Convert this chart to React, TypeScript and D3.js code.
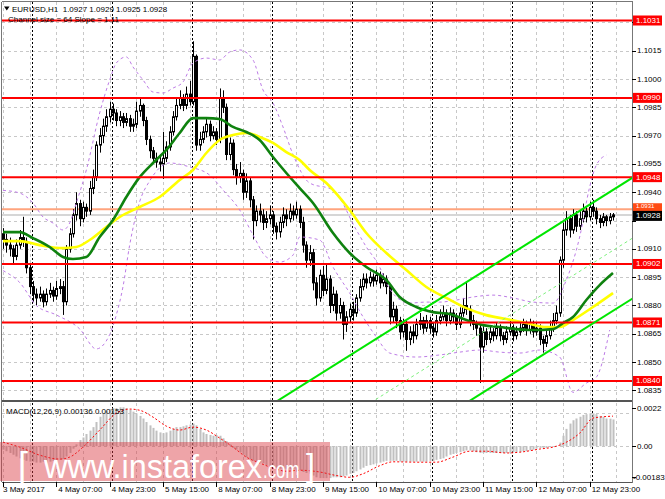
import React from 'react';
import * as d3 from 'd3';

// ---------------- DATA ----------------
const symbolTitle = 'EURUSD,H1';
const lastOHLC = ['1.0927', '1.0929', '1.0925', '1.0928'];
const channelText = 'Channel size = 64 Slope = 1.11';
const macdTitle = 'MACD(12,26,9) 0.00136 0.00153';
const watermarkMain = 'www.instaforex';
const watermarkTld = '.com';

// prices expressed in pips above BASE
const BASE = 1.08;
const firstOpen = 118;
const closes = [
  115, 112, 110, 106, 112, 116, 114, 100, 90, 86,
  84, 86, 82, 86, 88, 85, 89, 90, 82, 110,
  118, 128, 134, 126, 132, 130, 142, 148, 165, 170,
  175, 180, 184, 182, 178, 180, 177, 179, 175, 176,
  183, 186, 178, 168, 162, 158, 156, 155, 158, 164,
  172, 180, 186, 190, 186, 192, 188, 212, 165, 168,
  172, 176, 170, 172, 168, 190, 185, 160, 166, 152,
  148, 150, 140, 146, 136, 125, 130, 128, 124, 126,
  128, 122, 119, 124, 128, 126, 130, 128, 131, 124,
  112, 104, 108, 92, 84, 96, 88, 94, 80, 86,
  76, 80, 70, 74, 78, 76, 84, 90, 94, 92,
  95, 93, 96, 92, 94, 90, 74, 78, 72, 66,
  70, 62, 66, 64, 70, 72, 68, 72, 68, 66,
  72, 74, 76, 72, 76, 74, 70, 76, 80, 78,
  72, 70, 68, 58, 66, 62, 66, 64, 68, 64,
  62, 66, 68, 64, 66, 68, 70, 67, 70, 66,
  68, 62, 60, 64, 68, 72, 76, 104, 120, 126,
  120, 128, 122, 126, 130, 127, 132, 130, 126, 124,
  127, 125, 127, 128,
];
const highs = [
  121, 118, 116, 112, 115, 120, 127, 116, 102, 93,
  89, 90, 88, 89, 92, 90, 93, 94, 93, 112,
  121, 131, 140, 136, 135, 134, 146, 152, 167, 174,
  179, 184, 188, 187, 184, 183, 182, 182, 181, 179,
  188, 190, 187, 180, 170, 164, 161, 159, 172, 167,
  175, 183, 190, 194, 192, 196, 199, 220, 213, 172,
  175, 179, 178, 175, 174, 195, 194, 187, 169, 168,
  155, 156, 152, 150, 148, 138, 133, 134, 131, 130,
  133, 130, 124, 127, 132, 131, 134, 133, 135, 133,
  127, 114, 112, 110, 95, 99, 101, 102, 96, 90,
  88, 84, 82, 77, 81, 82, 86, 94, 97, 97,
  98, 97, 99, 98, 97, 96, 91, 82, 80, 74,
  73, 72, 69, 70, 73, 76, 74, 75, 74, 71,
  75, 78, 80, 78, 79, 78, 76, 79, 84, 92,
  80, 75, 72, 70, 69, 68, 69, 68, 71, 70,
  66, 69, 72, 70, 69, 71, 73, 72, 73, 72,
  71, 70, 64, 67, 72, 76, 80, 106, 124, 130,
  128, 131, 130, 130, 134, 132, 135, 136, 132, 128,
  129, 128, 129, 129,
];
const lows = [
  110, 108, 106, 102, 104, 110, 111, 97, 86, 82,
  80, 82, 79, 80, 84, 82, 83, 86, 75, 80,
  108, 116, 125, 122, 124, 127, 128, 139, 146, 161,
  166, 172, 177, 178, 175, 175, 174, 175, 172, 172,
  174, 180, 175, 165, 158, 155, 153, 151, 147, 156,
  162, 170, 178, 184, 183, 184, 186, 186, 162, 162,
  166, 169, 167, 168, 165, 166, 182, 157, 157, 149,
  144, 145, 136, 137, 132, 115, 122, 124, 120, 121,
  123, 118, 115, 116, 121, 122, 124, 125, 126, 121,
  108, 100, 101, 88, 80, 82, 85, 86, 76, 77,
  72, 73, 62, 66, 71, 72, 74, 82, 88, 89,
  90, 90, 91, 89, 90, 86, 70, 71, 68, 62,
  63, 56, 59, 60, 62, 67, 65, 66, 65, 63,
  64, 70, 72, 69, 70, 71, 67, 68, 74, 75,
  69, 67, 64, 39, 55, 59, 60, 61, 62, 61,
  59, 60, 64, 61, 62, 64, 66, 64, 65, 63,
  64, 59, 55, 58, 62, 66, 70, 74, 100, 117,
  116, 118, 119, 120, 124, 124, 125, 127, 123, 121,
  122, 122, 123, 125,
];

// moving averages (pips above BASE) read at bar positions
const greenMABars = [0, 5, 9, 14, 18, 21, 25, 29, 33, 37, 41, 45, 49, 53, 57, 61, 65, 69, 73, 77, 81, 85, 89, 93, 99, 104, 109, 115, 119, 124, 129, 134, 139, 144, 149, 154, 159, 165, 168, 171, 175, 179, 183];
const greenMAValues = [118.9, 118.9, 115.7, 111, 105.7, 104.6, 105.7, 116.3, 125.3, 137.5, 148, 155.5, 162.4, 171.4, 179.3, 179.3, 178.8, 174.6, 171.9, 167.7, 158.7, 150.2, 142.2, 134.3, 118.4, 107.8, 100.4, 93.5, 84.5, 79.2, 76.5, 75.5, 72.3, 69.6, 68.6, 67.5, 67, 67.5, 70.7, 73.9, 82.9, 90.8, 97.2];
const yellowMABars = [0, 5, 11, 18, 22, 26, 31, 35, 41, 47, 53, 57, 61, 65, 69, 73, 77, 81, 85, 89, 92, 97, 104, 109, 115, 121, 127, 133, 139, 145, 151, 157, 163, 167, 171, 177, 183];
const yellowMAValues = [114.1, 114.1, 112, 110.4, 111, 114.7, 121.6, 126.9, 132.2, 137.5, 146.5, 151.8, 160.8, 167.7, 170.3, 171.4, 169.3, 166.1, 161.3, 157.1, 151.8, 144.9, 130.6, 118.4, 107.8, 98.8, 89.8, 84, 78.6, 74.9, 72.8, 70.7, 68.6, 68.6, 72.3, 79.2, 86.6];

// bollinger bands (pips above BASE)
const upperBandBars = [0, 5, 9, 12, 15, 18, 20, 22, 25, 29, 32, 34, 37, 39, 42, 45, 48, 51, 54, 57, 61, 65, 68, 71, 75, 78, 81, 84, 87, 92, 99, 106, 109, 113, 115, 118, 122, 127, 131, 136, 141, 147, 153, 159, 165, 169, 173, 176, 178, 181];
const upperBandValues = [141, 139.6, 134.3, 126.9, 123.7, 120, 123.7, 134.3, 151.8, 182, 199.5, 208.5, 211.7, 206.4, 199.5, 193.1, 192.6, 195.2, 198.4, 208.5, 211.1, 210.1, 214.3, 215.4, 210.1, 194.2, 187.3, 174.6, 160, 144.9, 141.2, 120, 111, 100.4, 92, 84.5, 81.3, 81.8, 81.8, 82.9, 84.5, 85.5, 84, 81.8, 81.3, 93.5, 116.3, 142.8, 154.4, 159.7];
const lowerBandBars = [0, 5, 10, 16, 23, 28, 32, 34, 36, 38, 41, 44, 50, 56, 62, 66, 71, 75, 79, 83, 87, 89, 95, 99, 104, 108, 112, 116, 124, 131, 137, 143, 149, 155, 161, 167, 171, 175, 178, 182];
const lowerBandValues = [98.5, 92.2, 80, 75, 67.6, 57, 64.6, 75, 90, 112, 135, 146, 155.5, 153.4, 149.1, 141.2, 130.6, 117.4, 105.7, 103, 106.7, 116.3, 114.7, 100.4, 86.6, 74, 63.3, 54.8, 52.7, 53.8, 55.3, 56.4, 55.3, 54.8, 56.4, 52.7, 34, 38.9, 42, 67];

// regression channel
const channelAnchorBar = 183;
const channelAnchorUpper = 141.2; // pips above BASE
const channelSlope = 1.11; // pips per bar
const channelSize = 64; // pips

// horizontal levels
const levelPrices = [1.1031, 1.0990, 1.0948, 1.0902, 1.0871, 1.0840];
const askPrice = 1.0931;
const bidPrice = 1.0928;
const priceTicks = [1.1030, 1.1015, 1.1000, 1.0985, 1.0970, 1.0955, 1.0940, 1.0925, 1.0910, 1.0895, 1.0880, 1.0865, 1.0850, 1.0835];
// tick labels that the level / price boxes cover in the reference
const hiddenTickLabels = [1.1030, 1.0925];

// time axis
const timeLabels = ['3 May 2017', '4 May 07:00', '4 May 23:00', '5 May 15:00', '8 May 07:00', '8 May 23:00', '9 May 15:00', '10 May 07:00', '10 May 23:00', '11 May 15:00', '12 May 07:00', '12 May 23:00'];
const timeLabelBars = [0, 16, 32, 48, 64, 80, 96, 112, 128, 144, 160, 176];
const daySeparatorBars = [9, 33, 57, 81, 105, 129, 153, 177];
const gridBars = [0, 8, 16, 24, 32, 40, 48, 56, 64, 72, 80, 88, 96, 104, 112, 120, 128, 136, 144, 152, 160, 168, 176, 184];

// MACD (units of 0.0001)
const macdMain = [
  -1.8, -2.6, -3.5, -4.4, -5.3, -6.2, -7, -7.5, -7.9, -7.9,
  -8.4, -8.4, -7.9, -8.4, -7.9, -7.5, -7, -7, -6.6, -5.3,
  -3.5, -1.3, 0.9, 3.1, 4.4, 6.2, 7.9, 9.7, 12.3, 15,
  16.7, 18.1, 18.9, 19.4, 19.4, 19.8, 19.8, 19.4, 18.5, 17.6,
  16.7, 15.4, 14.1, 12.3, 10.6, 9.3, 7.9, 7, 6.6, 7,
  7.9, 8.8, 9.7, 9.7, 10.1, 10.6, 11, 11.5, 10.6, 8.8,
  7, 6.2, 5.7, 5.3, 5.7, 5.3, 4, 2.6, 0.9, -0.9,
  -1.8, -3.1, -4.4, -5.7, -6.6, -7.5, -7.9, -8.4, -8.8, -9.7,
  -10.1, -10.6, -11, -11.5, -11.5, -11.5, -11.9, -11.9, -11.9, -12.3,
  -13.2, -13.7, -14.1, -15, -15.9, -16.3, -16.3, -16.3, -16.3, -15.9,
  -15.9, -15.9, -15.4, -15, -14.1, -13.7, -12.8, -11.9, -11, -10.1,
  -9.7, -9.3, -8.8, -8.4, -7.9, -7.5, -7.5, -7.5, -7.5, -7.9,
  -7.9, -7.9, -7.9, -7.9, -7.9, -7.9, -7.9, -7.9, -7.5, -7.5,
  -7, -6.6, -6.2, -5.3, -4.4, -4, -3.5, -3.1, -2.6, -2.2,
  -2.2, -2.6, -3.1, -3.5, -3.5, -3.5, -3.5, -3.5, -3.5, -3.5,
  -3.5, -3.5, -3.5, -3.1, -3.1, -3.1, -2.6, -2.6, -2.2, -1.8,
  -1.3, -0.9, -0.9, -0.9, -0.4, -0.4, 0, 1.8, 5.3, 8.8,
  11.5, 13.2, 14.1, 15, 15.9, 16.3, 16.7, 16.7, 16.3, 15.4,
  15, 14.1, 14, 13.6,
];
const signalBars = [0, 5, 11, 17, 20, 24, 29, 34, 38, 41, 45, 49, 53, 57, 61, 65, 69, 73, 77, 81, 85, 89, 95, 100, 104, 108, 113, 117, 125, 130, 135, 140, 145, 151, 155, 161, 165, 169, 173, 177, 179, 183];
const signalValues = [2, -0.5, -4.6, -6.6, -5.6, -0.5, 8.2, 16.8, 18.9, 18.3, 14.8, 10.2, 8.2, 9.7, 8.2, 4.1, -0.5, -5.6, -8.6, -11.2, -12.8, -12.3, -13.2, -15, -15.9, -14.1, -10, -8, -8.2, -8.2, -5.6, -2.6, -2.6, -3.5, -3.1, -1.5, -0.5, 2, 6.6, 14.3, 14.8, 15.3];
const macdAxisLabels = ['0.0022', '0.00', '-0.00183'];
const macdAxisValues = [0.0022, 0, -0.00183];
const macdGridValues = [0.0017, 0];

// ---------------- LAYOUT ----------------
const W = 665;
const H = 499;
const left = 2;
const right = 632;
const mainTop = 2;
const mainBottom = 401;
const macdTop = 403;
const macdBottom = 482;
const FONT = '"Liberation Sans", Arial, sans-serif';

const x = d3.scaleLinear().domain([0, 189]).range([3, 633]);
const yP = d3.scaleLinear().domain([1.08294, 1.10408]).range([mainBottom, mainTop]);
const yM = d3.scaleLinear().domain([-0.00183, 0.0022]).range([macdBottom, macdTop]);
const pip = (v: number) => BASE + v / 10000;

const candles = closes.map((c, i) => ({
  i,
  o: i === 0 ? firstOpen : closes[i - 1],
  h: highs[i],
  l: lows[i],
  c,
}));

const pipLine = d3
  .line<[number, number]>()
  .x((d) => x(d[0]))
  .y((d) => yP(pip(d[1])))
  .curve(d3.curveMonotoneX);

const macdLine = d3
  .line<[number, number]>()
  .x((d) => x(d[0]))
  .y((d) => yM(d[1] / 10000))
  .curve(d3.curveMonotoneX);

const zip = (a: number[], b: number[]) => a.map((v, i) => [v, b[i]] as [number, number]);

const channelAt = (bar: number, offset: number) =>
  channelAnchorUpper + (bar - channelAnchorBar) * channelSlope - offset;

export default function App() {
  const chStart = 60;
  const chEnd = 195;
  const channelLines = [
    { off: 0, color: '#00e600', width: 2, dash: undefined as string | undefined },
    { off: channelSize / 2, color: '#7cf07c', width: 1, dash: '3,3' },
    { off: channelSize, color: '#00e600', width: 2, dash: undefined },
  ];
  const crisp = (v: number) => Math.round(v) + 0.5;

  return (
    <div style={{ position: 'absolute', left: 0, top: 0 }}>
      <svg width={W} height={H} style={{ display: 'block', background: '#fff' }} fontFamily={FONT}>
        <defs>
          <clipPath id="mainClip">
            <rect x={left} y={mainTop} width={right - left} height={mainBottom - mainTop} />
          </clipPath>
          <clipPath id="macdClip">
            <rect x={left} y={macdTop} width={right - left} height={macdBottom - macdTop} />
          </clipPath>
        </defs>
        <rect x={0} y={0} width={W} height={H} fill="#fff" />

        {/* horizontal grid main */}
        {priceTicks.map((p) => (
          <line key={'hg' + p} x1={left} x2={right} y1={crisp(yP(p))} y2={crisp(yP(p))} stroke="#c8c8c8" strokeDasharray="3,3" strokeWidth={1} />
        ))}
        {/* horizontal grid macd */}
        {macdGridValues.map((v) => (
          <line key={'mg' + v} x1={left} x2={right} y1={crisp(yM(v))} y2={crisp(yM(v))} stroke="#c8c8c8" strokeDasharray="3,3" strokeWidth={1} />
        ))}
        {/* vertical grid */}
        {gridBars.map((b) => (
          <g key={'vg' + b}>
            <line x1={crisp(x(b))} x2={crisp(x(b))} y1={mainTop} y2={mainBottom} stroke="#c8c8c8" strokeDasharray="3,3" />
            <line x1={crisp(x(b))} x2={crisp(x(b))} y1={macdTop} y2={macdBottom} stroke="#c8c8c8" strokeDasharray="3,3" />
          </g>
        ))}
        {/* day separators */}
        {daySeparatorBars.map((b) => (
          <g key={'ds' + b}>
            <line x1={crisp(x(b) - 1)} x2={crisp(x(b) - 1)} y1={mainTop} y2={mainBottom} stroke="#000" strokeDasharray="2,2" />
            <line x1={crisp(x(b) - 1)} x2={crisp(x(b) - 1)} y1={macdTop} y2={macdBottom} stroke="#000" strokeDasharray="2,2" />
          </g>
        ))}

        <g clipPath="url(#mainClip)">
          {/* bid / ask lines */}
          <line x1={left} x2={right} y1={yP(askPrice)} y2={yP(askPrice)} stroke="#ffa47e" strokeWidth={2} />
          <line x1={left} x2={right} y1={yP(bidPrice)} y2={yP(bidPrice)} stroke="#d6d6d6" strokeWidth={2} />

          {/* candles */}
          {candles.map((d) => {
            const cx = Math.round(x(d.i)) + 0.5;
            const top = yP(pip(Math.max(d.o, d.c)));
            const bot = yP(pip(Math.min(d.o, d.c)));
            const bull = d.c >= d.o;
            return (
              <g key={'c' + d.i}>
                <line x1={cx} x2={cx} y1={yP(pip(d.h))} y2={yP(pip(d.l))} stroke="#000" strokeWidth={1} />
                <rect
                  x={cx - 1}
                  y={top}
                  width={2}
                  height={Math.max(0.8, bot - top)}
                  fill={bull ? '#fff' : '#000'}
                  stroke="#000"
                  strokeWidth={1}
                />
              </g>
            );
          })}

          {/* bollinger bands */}
          <path d={pipLine(zip(upperBandBars, upperBandValues)) || ''} fill="none" stroke="#bd7ce6" strokeWidth={1} strokeDasharray="3,3" />
          <path d={pipLine(zip(lowerBandBars, lowerBandValues)) || ''} fill="none" stroke="#bd7ce6" strokeWidth={1} strokeDasharray="3,3" />

          {/* moving averages */}
          <path d={pipLine(zip(yellowMABars, yellowMAValues)) || ''} fill="none" stroke="#ffff00" strokeWidth={2.6} />
          <path d={pipLine(zip(greenMABars, greenMAValues)) || ''} fill="none" stroke="#0f820f" strokeWidth={2.6} />

          {/* red levels */}
          {levelPrices.map((p) => (
            <line key={'lv' + p} x1={left} x2={right} y1={yP(p)} y2={yP(p)} stroke="#ff0000" strokeWidth={2} />
          ))}

          {/* channel */}
          {channelLines.map((c, k) => (
            <line
              key={'ch' + k}
              x1={x(chStart)}
              x2={x(chEnd)}
              y1={yP(pip(channelAt(chStart, c.off)))}
              y2={yP(pip(channelAt(chEnd, c.off)))}
              stroke={c.color}
              strokeWidth={c.width}
              strokeDasharray={c.dash}
            />
          ))}
        </g>

        {/* MACD */}
        <g clipPath="url(#macdClip)">
          {macdMain.map((v, i) => {
            const y0 = yM(0);
            const y1 = yM(v / 10000);
            return (
              <rect key={'m' + i} x={Math.round(x(i)) - 0.5} y={Math.min(y0, y1)} width={2} height={Math.abs(y1 - y0)} fill="#c0c0c0" />
            );
          })}
          <path d={macdLine(zip(signalBars, signalValues)) || ''} fill="none" stroke="#ff0000" strokeWidth={1} strokeDasharray="2,2" />
        </g>

        {/* frames */}
        <line x1={left - 0.5} x2={left - 0.5} y1={mainTop} y2={macdBottom} stroke="#777" />
        <line x1={left} x2={right} y1={mainTop - 0.5} y2={mainTop - 0.5} stroke="#777" />
        <line x1={left} x2={right} y1={mainBottom} y2={mainBottom} stroke="#555" strokeWidth={2} />
        <line x1={left} x2={right} y1={macdBottom + 0.5} y2={macdBottom + 0.5} stroke="#555" />
        <line x1={right + 0.5} x2={right + 0.5} y1={mainTop - 1} y2={macdBottom + 1} stroke="#777" />

        {/* header texts */}
        <polygon points="4,6.5 9.5,6.5 6.75,10.5" fill="#000" />
        <text x={12} y={12} fontSize={8} fill="#000" style={{ whiteSpace: 'pre' }}>
          {symbolTitle + '  ' + lastOHLC.join(' ')}
        </text>
        <text x={8} y={22} fontSize={8} fill="#000">
          {channelText}
        </text>
        <text x={6} y={414} fontSize={8} fill="#000">
          {macdTitle}
        </text>

        {/* price axis */}
        {priceTicks.map((p) => (
          <g key={'pt' + p}>
            <line x1={right} x2={right + 4} y1={crisp(yP(p))} y2={crisp(yP(p))} stroke="#000" />
            {hiddenTickLabels.indexOf(p) < 0 && (
              <text x={right + 5} y={yP(p)} fontSize={8} dominantBaseline="central" fill="#000">
                {p.toFixed(4)}
              </text>
            )}
          </g>
        ))}
        {levelPrices.map((p) => (
          <g key={'lb' + p}>
            <rect x={right + 1} y={yP(p) - 5} width={29} height={10} fill="#ff0000" />
            <text x={right + 4} y={yP(p)} fontSize={8} dominantBaseline="central" fill="#fff">
              {p.toFixed(4)}
            </text>
          </g>
        ))}
        <rect x={right + 1} y={yP(askPrice) - 6} width={29} height={10} fill="#ff4b14" />
        <text x={right + 4} y={yP(askPrice) - 3.5} fontSize={6} dominantBaseline="central" fill="#fff">
          {askPrice.toFixed(4)}
        </text>
        <rect x={right + 1} y={yP(bidPrice) - 4} width={29} height={10} fill="#000" />
        <text x={right + 4} y={yP(bidPrice) + 1} fontSize={8} dominantBaseline="central" fill="#fff">
          {bidPrice.toFixed(4)}
        </text>

        {/* macd axis */}
        {macdAxisValues.map((v, k) => {
          const yy = Math.min(Math.max(yM(v), macdTop + 5), macdBottom - 5);
          return (
            <g key={'ma' + k}>
              <line x1={right} x2={right + 4} y1={crisp(yy)} y2={crisp(yy)} stroke="#000" />
              <text x={v < 0 ? right + 1 : right + 5} y={yy} fontSize={8} dominantBaseline="central" fill="#000">
                {macdAxisLabels[k]}
              </text>
            </g>
          );
        })}

        {/* time axis */}
        {timeLabelBars.map((b, k) => (
          <g key={'tl' + b}>
            <line x1={crisp(x(b))} x2={crisp(x(b))} y1={macdBottom} y2={macdBottom + 5} stroke="#000" />
            <text x={k === 0 ? 3 : x(b) + 2} y={492} fontSize={8} fill="#000">
              {timeLabels[k]}
            </text>
          </g>
        ))}

        {/* watermark */}
        <rect x={0} y={442} width={330} height={39} fill="#d9363e" opacity={0.45} />
        <text x={18} y={478} fontSize={36} fill="#fff" fontWeight={300}>[</text>
        <text x={44} y={478} fontSize={33} fill="#fff" textLength={218} lengthAdjust="spacingAndGlyphs">
          {watermarkMain}
        </text>
        <text transform="translate(263,478) scale(0.7,1)" x={0} y={0} fontSize={24} fill="#fff">
          {watermarkTld}
        </text>
        <text x={306} y={476} fontSize={32} fill="#fff" fontWeight={300}>]</text>
      </svg>
    </div>
  );
}
